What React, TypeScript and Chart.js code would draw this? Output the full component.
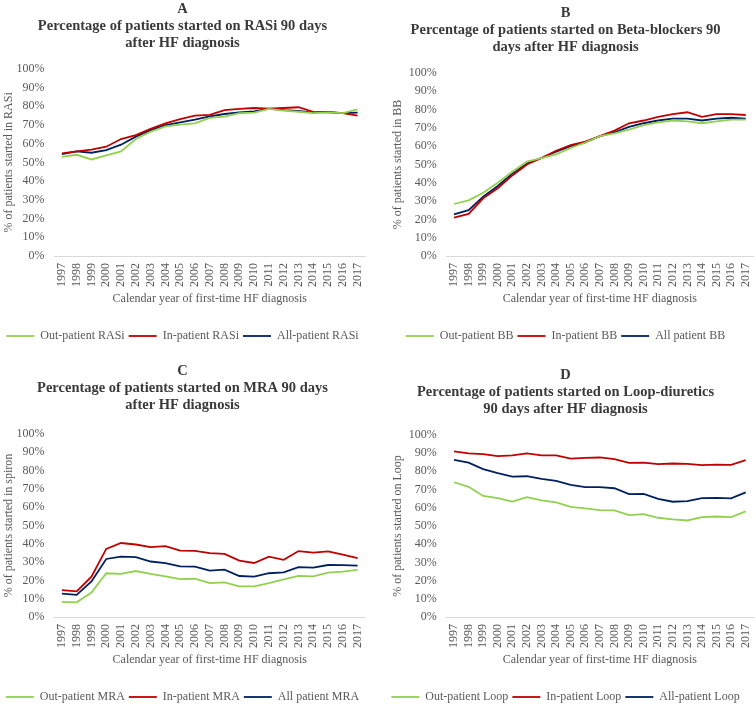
import React, { useEffect, useRef } from "react";
import { Chart, registerables } from "chart.js";

Chart.register(...registerables);

const years = ["1997","1998","1999","2000","2001","2002","2003","2004","2005","2006","2007","2008","2009","2010","2011","2012","2013","2014","2015","2016","2017"];
const yTicks = [0, 10, 20, 30, 40, 50, 60, 70, 80, 90, 100];

const rasiOut = [53, 54.1, 51.6, 53.8, 55.9, 62.5, 66.4, 69.3, 70.2, 70.9, 73.8, 74.5, 76.3, 76.6, 78.6, 77.7, 77.1, 76.4, 76.8, 76.4, 78.4];
const rasiIn = [54.8, 55.9, 56.8, 58.4, 62.5, 64.6, 67.9, 70.9, 73.2, 75, 75.4, 78, 78.6, 79.1, 78.8, 79.1, 79.5, 77, 76.8, 76.4, 75];
const rasiAll = [54.5, 55.9, 55.2, 56.6, 59.5, 63.8, 67.3, 70, 71.4, 72.9, 74.6, 75.9, 76.8, 77.3, 78.8, 78, 77.5, 76.6, 77, 76.4, 76.6];

const bbOut = [28.4, 30.4, 34.5, 40, 46, 51.5, 53.5, 55.5, 59, 62, 65.5, 67, 69, 71.5, 73, 74, 73.5, 72.5, 73.5, 74.5, 74.5];
const bbIn = [20.9, 23, 31.5, 37, 44, 50, 53.5, 57.5, 60.5, 62.5, 65.5, 68.5, 72.5, 74, 76, 77.5, 78.5, 76, 77.5, 77.5, 77];
const bbAll = [22.7, 25, 32.4, 38.2, 45, 50.5, 53.5, 57, 60, 62, 65.5, 67.5, 70.5, 72.5, 74, 75, 75, 74, 75, 75.5, 75];

const mraOut = [8.3, 8, 13.4, 23.9, 23.5, 25.1, 23.5, 22.2, 20.7, 20.9, 18.5, 18.9, 16.7, 16.7, 18.5, 20.5, 22.4, 22.2, 24.2, 24.8, 25.7];
const mraIn = [14.7, 14, 22, 37.2, 40.4, 39.6, 38.2, 38.7, 36.3, 36.1, 34.9, 34.5, 30.8, 29.5, 33, 31.2, 36, 35.2, 35.8, 34.1, 32.1];
const mraAll = [12.8, 12.1, 19.4, 31.7, 33, 32.7, 30.3, 29.4, 27.7, 27.5, 25.3, 25.9, 22.4, 22, 23.9, 24.4, 27.2, 27, 28.4, 28.3, 28.1];

const loopOut = [74, 71.5, 66.5, 65.3, 63.4, 65.8, 64, 62.9, 60.5, 59.6, 58.7, 58.5, 55.9, 56.5, 54.5, 53.6, 53, 54.8, 55.2, 54.8, 58];
const loopIn = [90.9, 89.8, 89.4, 88.3, 88.8, 89.8, 88.7, 88.8, 87, 87.4, 87.6, 86.7, 84.6, 84.8, 83.9, 84.3, 84.1, 83.4, 83.7, 83.5, 86.1];
const loopAll = [86.3, 84.8, 81.2, 79, 77.1, 77.3, 75.9, 74.8, 72.6, 71.3, 71.3, 70.7, 67.5, 67.6, 64.9, 63.3, 63.6, 65.3, 65.4, 65.1, 68.4];

const GREEN = "#92D050";
const RED = "#C00000";
const NAVY = "#002060";
const TEXT = "#595959";
const FONT = "'Liberation Serif', 'Times New Roman', serif";

type Panel = {
  left: number; top: number; width: number; height: number;
  title: string[]; yTitle: string; labels: string[];
  series: number[][]; padTop: number; titleGap: number; yWidth: number; yTitlePad: number; padRight: number;
};

const panels: Panel[] = [
  { left: 0, top: 0, width: 378, height: 353,
    title: ["A", "Percentage of patients started on RASi 90 days", "after HF diagnosis"],
    yTitle: "% of patients started in RASi",
    labels: ["Out-patient RASi", "In-patient RASi", "All-patient RASi"],
    series: [rasiOut, rasiIn, rasiAll], padTop: 1, titleGap: 17, yWidth: 54.5, yTitlePad: 2, padRight: 13 },
  { left: 378, top: 0, width: 378, height: 353,
    title: ["B", "Percentage of patients started on Beta-blockers 90", "days after HF diagnosis"],
    yTitle: "% of patients started in BB",
    labels: ["Out-patient BB", "In-patient BB", "All patient BB"],
    series: [bbOut, bbIn, bbAll], padTop: 5, titleGap: 17, yWidth: 68.7, yTitlePad: 13, padRight: 3 },
  { left: 0, top: 362, width: 378, height: 352,
    title: ["C", "Percentage of patients started on MRA 90 days", "after HF diagnosis"],
    yTitle: "% of patients started in spiron",
    labels: ["Out-patient MRA", "In-patient MRA", "All patient MRA"],
    series: [mraOut, mraIn, mraAll], padTop: 1, titleGap: 20, yWidth: 54.5, yTitlePad: 2, padRight: 13 },
  { left: 378, top: 362, width: 378, height: 352,
    title: ["D", "Percentage of patients started on Loop-diuretics", "90 days after HF diagnosis"],
    yTitle: "% of patients started on Loop",
    labels: ["Out-patient Loop", "In-patient Loop", "All-patient Loop"],
    series: [loopOut, loopIn, loopAll], padTop: 5, titleGap: 17, yWidth: 68.7, yTitlePad: 13, padRight: 3 },
];

const colors = [GREEN, RED, NAVY];

function PanelChart({ p }: { p: Panel }) {
  const ref = useRef<HTMLCanvasElement>(null);
  useEffect(() => {
    if (!ref.current) return;
    const chart = new Chart(ref.current, {
      type: "line",
      data: {
        labels: years,
        datasets: p.series.map((s, i) => ({
          label: p.labels[i],
          data: s,
          borderColor: colors[i],
          backgroundColor: colors[i],
          borderWidth: 1.8,
          pointRadius: 0,
          tension: 0,
          fill: false,
        })),
      },
      options: {
        animation: false,
        responsive: true,
        maintainAspectRatio: false,
        layout: { padding: { top: p.padTop, right: p.padRight, left: 0, bottom: 1 } },
        plugins: {
          tooltip: { enabled: false },
          title: {
            display: true,
            text: p.title,
            color: "#3A3A3A",
            font: { family: FONT, size: 14.5, weight: "bold", lineHeight: 1.17 },
            padding: { top: 0, bottom: p.titleGap },
          },
          legend: {
            position: "bottom",
            labels: {
              color: TEXT,
              font: { family: FONT, size: 12 },
              usePointStyle: true,
              pointStyle: "line",
              pointStyleWidth: 28,
              boxHeight: 12,
              padding: 4,
            },
          },
        },
        scales: {
          x: {
            offset: true,
            grid: { display: false, drawTicks: false },
            border: { display: true, color: "#D9D9D9", width: 1 },
            afterFit: (axis: any) => {
              axis.height = 70;
              axis.paddingLeft = 0;
              axis.paddingRight = 0;
            },
            ticks: {
              color: TEXT,
              font: { family: FONT, size: 12 },
              minRotation: 90,
              maxRotation: 90,
              autoSkip: false,
              padding: 7,
            },
            title: {
              display: true,
              text: "Calendar year of first-time HF diagnosis",
              color: TEXT,
              font: { family: FONT, size: 12 },
              padding: { top: 4, bottom: 19.8 },
            },
          },
          y: {
            min: 0,
            max: 100,
            grid: { display: false, drawTicks: false },
            border: { display: false },
            afterBuildTicks: (axis: any) => {
              axis.ticks = yTicks.map((v) => ({ value: v }));
            },
            afterFit: (axis: any) => {
              axis.width = p.yWidth;
            },
            ticks: {
              color: TEXT,
              font: { family: FONT, size: 12 },
              padding: 10,
              autoSkip: false,
              callback: (v: any) => v + "%",
            },
            title: {
              display: true,
              text: p.yTitle,
              color: TEXT,
              font: { family: FONT, size: 12 },
              padding: { top: p.yTitlePad, bottom: 4 },
            },
          },
        },
      },
    });
    return () => chart.destroy();
  }, [p]);
  return (
    <div style={{ position: "absolute", left: p.left, top: p.top, width: p.width, height: p.height }}>
      <canvas ref={ref} />
    </div>
  );
}

export default function App() {
  return (
    <div style={{ position: "fixed", left: 0, top: 0, width: 756, height: 706, background: "#fff", overflow: "hidden" }}>
      {panels.map((p, i) => (
        <PanelChart key={i} p={p} />
      ))}
    </div>
  );
}
